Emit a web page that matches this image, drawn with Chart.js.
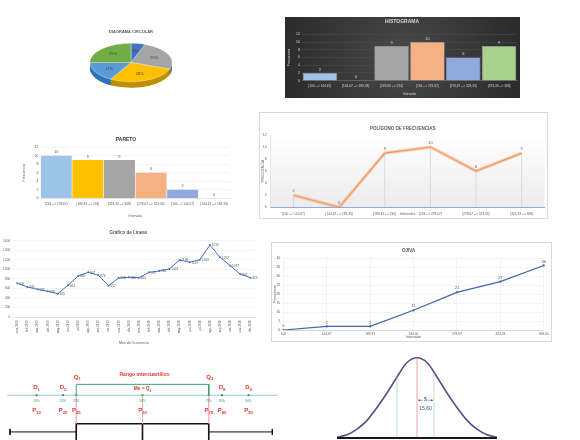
<!DOCTYPE html>
<html lang="es">
<head>
<meta charset="utf-8">
<title>Gráficos estadísticos</title>
<script src="https://cdn.jsdelivr.net/npm/chart.js@4.4.1/dist/chart.umd.min.js"></script>
<style>
  html, body { margin: 0; padding: 0; background: #fff; }
  body { position: relative; width: 580px; height: 440px; overflow: hidden; }
  .panel { position: absolute; box-sizing: border-box; }
  .marco { border: 1px solid #d9d9d9; }
</style>
</head>
<body>
<div class="panel" style="left:59px;top:22px;width:144px;height:84px"><canvas id="circular"></canvas></div>
<div class="panel" style="left:285px;top:17px;width:235px;height:81px"><canvas id="histograma"></canvas></div>
<div class="panel" style="left:20px;top:130px;width:215px;height:90px"><canvas id="pareto"></canvas></div>
<div class="panel marco" style="left:259px;top:112px;width:289px;height:107px"><canvas id="poligono"></canvas></div>
<div class="panel" style="left:0;top:225px;width:262px;height:122px"><canvas id="lineas"></canvas></div>
<div class="panel marco" style="left:271px;top:242px;width:281px;height:100px"><canvas id="ojiva"></canvas></div>
<div class="panel" style="left:0;top:355px;width:290px;height:85px"><canvas id="cuantiles"></canvas></div>
<div class="panel" style="left:330px;top:350px;width:175px;height:90px"><canvas id="normal"></canvas></div>

<script>
// ---- datos ----
const intervalos = ['[100 --> 144,67)', '[144,67 --> 189,33)', '[189,33 --> 234)', '[234 --> 278,67)', '[278,67 --> 323,33)', '[323,33 --> 368]'];
const frecuencias = [2, 0, 9, 10, 6, 9];

const paretoIntervalos = ['[234 --> 278,67)', '[189,33 --> 234)', '[323,33 --> 368]', '[278,67 --> 323,33)', '[100 --> 144,67)', '[144,67 --> 189,33)'];
const paretoFrecuencias = [10, 9, 9, 6, 2, 0];

const limites = ['100', '144,67', '189,33', '234,00', '278,67', '323,33', '368,00'];
const acumuladas = [0, 2, 2, 11, 21, 27, 36];

const meses = ['ene-2019', 'feb-2019', 'mar-2019', 'abr-2019', 'may-2019', 'jun-2019', 'jul-2019', 'ago-2019', 'sep-2019', 'oct-2019', 'nov-2019', 'dic-2019',
               'ene-2020', 'feb-2020', 'mar-2020', 'abr-2020', 'may-2020', 'jun-2020', 'jul-2020', 'ago-2020', 'sep-2020', 'oct-2020', 'nov-2020', 'dic-2020'];
const casos = [706, 630, 580, 538, 490, 664, 860, 937, 874, 657, 818, 832, 825, 937, 965, 1007, 1196, 1147, 1203, 1510, 1252, 1077, 895, 825];

const cuantilPos = [10, 20, 25, 50, 75, 80, 90];
const cuantilLetra = ['D', 'D', 'Q', 'Me = Q', 'Q', 'D', 'D'];
const cuantilSub = ['1', '2', '1', '2', '3', '8', '9'];
const porcentajes = ['10%', '20%', '25%', '50%', '75%', '80%', '90%'];
const percentilSub = ['10', '20', '25', '50', '75', '80', '90'];
const bigotes = [0, 99];

const normalX = [-80, -70, -60, -50, -40, -30, -20, -10, 0, 10, 20, 30, 40, 50, 60, 70, 80];
const normalY = [0.01, 0.04, 0.11, 0.22, 0.38, 0.56, 0.76, 0.94, 1, 0.94, 0.76, 0.56, 0.38, 0.22, 0.11, 0.04, 0.01];
const lineasS = [-20, 17];
const alturasS = [0.76, 0.81];
const desviacion = '15.60';

// ---- estilos ----
const FUENTE = '"Liberation Sans", Arial, sans-serif';
const coloresCirculo = ['#4472c4', '#ed7d31', '#a5a5a5', '#ffc000', '#5b9bd5', '#70ad47'];
const ladosCirculo = ['#2f5597', '#c55a11', '#7b7b7b', '#bf9000', '#2e75b6', '#548235'];
const coloresHist = ['#9dc3e6', '#f4b183', '#a5a5a5', '#f4b183', '#8faadc', '#a9d18e'];
const coloresPareto = ['#9dc3e6', '#ffc000', '#a5a5a5', '#f4b183', '#8faadc', '#a9d18e'];
const ROJO = '#e2382f';
const VERDE = '#1f9a5a';

Chart.defaults.font.family = FUENTE;
Chart.defaults.font.size = 4;
Chart.defaults.color = '#595959';
Chart.defaults.animation = false;
Chart.defaults.responsive = true;
Chart.defaults.maintainAspectRatio = false;
Chart.defaults.plugins.legend.display = false;
Chart.defaults.plugins.tooltip.enabled = false;

// ---- plugins ----
const etiquetas = {
    id: 'etiquetas',
    afterDatasetsDraw(chart, args, o) {
        const idx = o.dataset || 0;
        const meta = chart.getDatasetMeta(idx);
        const valores = chart.data.datasets[idx].data;
        const ctx = chart.ctx;
        ctx.save();
        ctx.font = `${o.size || 4}px ${FUENTE}`;
        ctx.fillStyle = o.color || '#595959';
        ctx.textAlign = o.align || 'center';
        ctx.textBaseline = o.baseline || 'bottom';
        meta.data.forEach((el, i) => {
            ctx.fillText(String(valores[i]), el.x + (o.dx || 0), el.y + (o.dy === undefined ? -1.5 : o.dy));
        });
        ctx.restore();
    }
};

const fondo = {
    id: 'fondo',
    beforeDraw(chart, args, o) {
        const { ctx, width, height } = chart;
        const g = ctx.createRadialGradient(width / 2, height / 2, 5, width / 2, height / 2, width * 0.6);
        g.addColorStop(0, o.centro);
        g.addColorStop(1, o.borde);
        ctx.save();
        ctx.fillStyle = g;
        ctx.fillRect(0, 0, width, height);
        ctx.restore();
    }
};

const fondoArea = {
    id: 'fondoArea',
    beforeDraw(chart, args, o) {
        const { ctx, chartArea: a } = chart;
        const g = ctx.createLinearGradient(0, a.top, 0, a.bottom);
        g.addColorStop(0, o.arriba);
        g.addColorStop(1, o.abajo);
        ctx.save();
        ctx.fillStyle = g;
        ctx.fillRect(a.left, a.top, a.right - a.left, a.bottom - a.top);
        ctx.restore();
    }
};

const caida = {
    id: 'caida',
    beforeDatasetsDraw(chart, args, o) {
        const meta = chart.getDatasetMeta(o.dataset || 0);
        const base = chart.scales.y.getPixelForValue(0);
        const ctx = chart.ctx;
        ctx.save();
        ctx.strokeStyle = o.color;
        ctx.lineWidth = 0.5;
        meta.data.forEach(p => {
            ctx.beginPath();
            ctx.moveTo(p.x, p.y);
            ctx.lineTo(p.x, base);
            ctx.stroke();
        });
        ctx.restore();
    }
};

// pastel con aspecto 3D: aplasta la cara y dibuja el costado debajo
const pastel3d = {
    id: 'pastel3d',
    beforeDatasetsDraw(chart, args, o) {
        const ctx = chart.ctx;
        const arcos = chart.getDatasetMeta(0).data;
        const a0 = arcos[0];
        for (let d = o.grosor; d > 0; d -= 0.5) {
            ctx.save();
            ctx.translate(a0.x, o.cy + d);
            ctx.scale(1, o.razon);
            arcos.forEach((arc, i) => {
                if (arc.endAngle - arc.startAngle <= 0) return;
                ctx.beginPath();
                ctx.moveTo(0, 0);
                ctx.arc(0, 0, arc.outerRadius, arc.startAngle, arc.endAngle);
                ctx.closePath();
                ctx.fillStyle = o.lados[i];
                ctx.fill();
            });
            ctx.restore();
        }
        ctx.save();
        ctx.translate(a0.x, o.cy);
        ctx.scale(1, o.razon);
        ctx.translate(-a0.x, -a0.y);
    },
    afterDatasetsDraw(chart, args, o) {
        const ctx = chart.ctx;
        ctx.restore();
        const arcos = chart.getDatasetMeta(0).data;
        const valores = chart.data.datasets[0].data;
        const total = valores.reduce((s, v) => s + v, 0);
        ctx.save();
        ctx.font = `4px ${FUENTE}`;
        ctx.fillStyle = '#404040';
        ctx.textAlign = 'center';
        ctx.textBaseline = 'middle';
        arcos.forEach((arc, i) => {
            if (valores[i] === 0) return;
            const ang = (arc.startAngle + arc.endAngle) / 2;
            const r = arc.outerRadius * 0.62;
            ctx.fillText(Math.round(valores[i] / total * 100) + '%', arc.x + Math.cos(ang) * r, o.cy + Math.sin(ang) * r * o.razon);
        });
        ctx.restore();
    }
};

function conSubindice(ctx, base, sub, cx, cy, size, color) {
    ctx.font = `bold ${size}px ${FUENTE}`;
    const wb = ctx.measureText(base).width;
    ctx.font = `bold ${size * 0.7}px ${FUENTE}`;
    const ws = ctx.measureText(sub).width;
    const x0 = cx - (wb + ws) / 2;
    ctx.textAlign = 'left';
    ctx.textBaseline = 'middle';
    ctx.fillStyle = color;
    ctx.font = `bold ${size}px ${FUENTE}`;
    ctx.fillText(base, x0, cy);
    ctx.font = `bold ${size * 0.7}px ${FUENTE}`;
    ctx.fillText(sub, x0 + wb, cy + size * 0.35);
}

// filas del diagrama de cuantiles (en px desde arriba)
const FILA_RANGO = 17.3, FILA_Q = 20, FILA_LLAVE = 28, FILA_D = 31.7, FILA_ME = 33.3,
      FILA_EJE = 40, FILA_PORC = 46.7, FILA_P = 56.7, FILA_CAJA = 71.5, FILA_BIGOTE = 80.5, FILA_FONDO = 96;

const textoCuantiles = {
    id: 'textoCuantiles',
    afterDatasetsDraw(chart) {
        const { ctx, scales: { x, y } } = chart;
        ctx.save();
        ctx.textAlign = 'center';
        ctx.textBaseline = 'middle';
        ctx.fillStyle = ROJO;
        ctx.font = `bold 5px ${FUENTE}`;
        ctx.fillText('Rango intercuartílico', x.getPixelForValue((cuantilPos[2] + cuantilPos[4]) / 2) + 2, y.getPixelForValue(FILA_RANGO));
        cuantilPos.forEach((v, i) => {
            const px = x.getPixelForValue(v);
            const letra = cuantilLetra[i];
            if (letra === 'Q') {
                conSubindice(ctx, letra, cuantilSub[i], px + 1, y.getPixelForValue(FILA_Q), 6, ROJO);
            } else if (letra === 'D') {
                conSubindice(ctx, letra, cuantilSub[i], px, y.getPixelForValue(FILA_D), 6, ROJO);
            } else {
                conSubindice(ctx, letra, cuantilSub[i], px, y.getPixelForValue(FILA_ME), 4.8, ROJO);
            }
            ctx.textAlign = 'center';
            ctx.fillStyle = VERDE;
            ctx.font = `3px ${FUENTE}`;
            ctx.fillText(porcentajes[i], px, y.getPixelForValue(FILA_PORC));
            conSubindice(ctx, 'P', percentilSub[i], px, y.getPixelForValue(FILA_P), 6, ROJO);
        });
        ctx.restore();
    }
};

const textoNormal = {
    id: 'textoNormal',
    afterDatasetsDraw(chart) {
        const { ctx, scales: { x, y } } = chart;
        const x0 = x.getPixelForValue(0);
        const x1 = x.getPixelForValue(lineasS[1]);
        const yf = y.getPixelForValue(0.47);
        const xm = (x0 + x1) / 2;
        ctx.save();
        ctx.strokeStyle = '#2f5597';
        ctx.fillStyle = '#2f5597';
        ctx.lineWidth = 0.5;
        ctx.beginPath();
        ctx.moveTo(x0 + 1, yf); ctx.lineTo(xm - 2.5, yf);
        ctx.moveTo(xm + 2.5, yf); ctx.lineTo(x1 - 1, yf);
        ctx.stroke();
        [[x0 + 1, 1], [x1 - 1, -1]].forEach(([px, s]) => {
            ctx.beginPath();
            ctx.moveTo(px, yf);
            ctx.lineTo(px + 2 * s, yf - 1);
            ctx.lineTo(px + 2 * s, yf + 1);
            ctx.closePath();
            ctx.fill();
        });
        ctx.textAlign = 'center';
        ctx.textBaseline = 'middle';
        ctx.font = `bold 4.5px ${FUENTE}`;
        ctx.fillText('S', xm, yf);
        ctx.font = `5px ${FUENTE}`;
        ctx.fillText(desviacion, xm, y.getPixelForValue(0.37));
        ctx.restore();
    }
};

const sinMiles = v => String(v);

// ---- diagrama circular ----
new Chart(document.getElementById('circular'), {
    type: 'pie',
    data: {
        labels: intervalos,
        datasets: [{ data: frecuencias, backgroundColor: coloresCirculo, borderColor: '#ffffff', borderWidth: 0.5, radius: 41, clip: false }]
    },
    options: {
        layout: { padding: 0 },
        plugins: {
            title: { display: true, text: 'DIAGRAMA CIRCULAR', color: '#595959', font: { size: 4 }, padding: { top: 7.6, bottom: 4 } },
            pastel3d: { cy: 40.5, razon: 0.47, grosor: 6, lados: ladosCirculo }
        }
    },
    plugins: [pastel3d]
});

// ---- histograma ----
new Chart(document.getElementById('histograma'), {
    type: 'bar',
    data: {
        labels: intervalos,
        datasets: [{ data: frecuencias, backgroundColor: coloresHist, borderColor: 'rgba(255,255,255,0.55)', borderWidth: 0.6, barPercentage: 0.96, categoryPercentage: 1 }]
    },
    options: {
        layout: { padding: { left: 2, right: 3, top: 0, bottom: 2 } },
        plugins: {
            title: { display: true, text: 'HISTOGRAMA', color: '#d9d9d9', font: { size: 5 }, padding: { top: 2, bottom: 9.3 } },
            fondo: { centro: '#474747', borde: '#262626' },
            etiquetas: { color: '#d9d9d9', size: 4 }
        },
        scales: {
            x: {
                grid: { display: false, drawTicks: false },
                border: { color: '#7f7f7f', width: 0.5 },
                ticks: { color: '#d9d9d9', font: { size: 3.2 }, padding: 3.4, maxRotation: 0, autoSkip: false },
                title: { display: true, text: 'Intervalo', color: '#d9d9d9', font: { size: 3.5 }, padding: 0 },
                afterFit: s => { s.height = 15.3; }
            },
            y: {
                min: 0, max: 12,
                ticks: { stepSize: 2, color: '#d9d9d9', font: { size: 3.5 }, padding: 2 },
                grid: { color: '#4f4f4f', lineWidth: 0.5, drawTicks: false },
                border: { display: false },
                title: { display: true, text: 'Frecuencia', color: '#d9d9d9', font: { size: 3.5 }, padding: 0 },
                afterFit: s => { s.width = 15; }
            }
        }
    },
    plugins: [fondo, etiquetas]
});

// ---- pareto ----
new Chart(document.getElementById('pareto'), {
    type: 'bar',
    data: {
        labels: paretoIntervalos,
        datasets: [{ data: paretoFrecuencias, backgroundColor: coloresPareto, barPercentage: 0.98, categoryPercentage: 1 }]
    },
    options: {
        layout: { padding: { left: 2, right: 5, top: 0, bottom: 2 } },
        plugins: {
            title: { display: true, text: 'PARETO', color: '#404040', font: { size: 5, weight: 'bold' }, padding: { top: 6.3, bottom: 5 } },
            etiquetas: { color: '#595959', size: 4 }
        },
        scales: {
            x: {
                grid: { display: false, drawTicks: false },
                border: { color: '#d9d9d9', width: 0.5 },
                ticks: { font: { size: 3.2 }, padding: 4, maxRotation: 0, autoSkip: false },
                title: { display: true, text: 'Intervalo', font: { size: 3.5 }, padding: 0 },
                afterFit: s => { s.height = 19.7; }
            },
            y: {
                min: 0, max: 12,
                ticks: { stepSize: 2, font: { size: 3.5 }, padding: 2 },
                grid: { color: '#e6e6e6', lineWidth: 0.5, drawTicks: false },
                border: { display: false },
                title: { display: true, text: 'Frecuencia', font: { size: 3.5 }, padding: 0 },
                afterFit: s => { s.width = 18.5; }
            }
        }
    },
    plugins: [etiquetas]
});

// ---- polígono de frecuencias ----
new Chart(document.getElementById('poligono'), {
    type: 'line',
    data: {
        labels: intervalos,
        datasets: [
            { data: frecuencias, borderColor: 'rgba(244,177,131,0.55)', borderWidth: 3.5, pointRadius: 0 },
            { data: frecuencias, borderColor: '#ed7d31', borderWidth: 1.2, pointRadius: 0 }
        ]
    },
    options: {
        layout: { padding: { left: 1, right: 2.5, top: 0, bottom: 2 } },
        plugins: {
            title: { display: true, text: 'POLÍGONO DE FRECUENCIAS', color: '#595959', font: { size: 4.5 }, padding: { top: 13.3, bottom: 3.3 } },
            fondoArea: { arriba: '#ffffff', abajo: '#ececec' },
            caida: { dataset: 1, color: '#bfbfbf' },
            etiquetas: { dataset: 1, color: '#595959', size: 4, dy: -2 }
        },
        scales: {
            x: {
                offset: true,
                grid: { display: false, drawTicks: false },
                border: { color: '#8faadc', width: 1 },
                ticks: { font: { size: 3.2 }, padding: 4.4, maxRotation: 0, autoSkip: false },
                title: { display: true, text: 'Intervalos', font: { size: 3.5 }, padding: 0 },
                afterFit: s => { s.height = 8.7; }
            },
            y: {
                min: 0, max: 12,
                ticks: { stepSize: 2, font: { size: 3.5 }, padding: 4 },
                grid: { display: false, drawTicks: false },
                border: { color: '#c9d5ec', width: 0.6 },
                title: { display: true, text: 'FRECUENCIA', font: { size: 3.5 }, padding: 0 },
                afterFit: s => { s.width = 9.7; }
            }
        }
    },
    plugins: [fondoArea, caida, etiquetas]
});

// ---- gráfico de líneas ----
new Chart(document.getElementById('lineas'), {
    type: 'line',
    data: {
        labels: meses,
        datasets: [{ data: casos, borderColor: '#4472c4', borderWidth: 1, pointRadius: 1, pointBackgroundColor: '#4472c4', pointBorderWidth: 0 }]
    },
    options: {
        layout: { padding: { left: 1, right: 6.4, top: 0, bottom: 2 } },
        plugins: {
            title: { display: true, text: 'Gráfico de Líneas', color: '#595959', font: { size: 4.5 }, padding: { top: 4.6, bottom: 5.7 } },
            etiquetas: { color: '#595959', size: 3.2, align: 'left', baseline: 'middle', dx: 1.8, dy: 0.5 }
        },
        scales: {
            x: {
                offset: true,
                grid: { display: false, drawTicks: false },
                border: { color: '#d9d9d9', width: 0.5 },
                ticks: { font: { size: 3 }, padding: 3, minRotation: 90, maxRotation: 90, autoSkip: false },
                title: { display: true, text: 'Mes de Ocurrencia', font: { size: 3.5 }, padding: 0 },
                afterFit: s => { s.height = 28; }
            },
            y: {
                min: 0, max: 1600,
                ticks: { stepSize: 200, font: { size: 3.2 }, padding: 2, callback: sinMiles },
                grid: { color: '#e6e6e6', lineWidth: 0.5, drawTicks: false },
                border: { display: false },
                afterFit: s => { s.width = 11.2; }
            }
        }
    },
    plugins: [etiquetas]
});

// ---- ojiva ----
new Chart(document.getElementById('ojiva'), {
    type: 'line',
    data: {
        labels: limites,
        datasets: [{ data: acumuladas, borderColor: '#3f64b0', borderWidth: 1.2, pointRadius: 1.1, pointBackgroundColor: '#3f64b0', pointBorderWidth: 0 }]
    },
    options: {
        layout: { padding: { left: 1, right: 6.7, top: 0, bottom: 2 } },
        plugins: {
            title: { display: true, text: 'OJIVA', color: '#595959', font: { size: 4.5 }, padding: { top: 5, bottom: 4.9 } },
            etiquetas: { color: '#595959', size: 4, dy: -2 }
        },
        scales: {
            x: {
                offset: false,
                grid: { color: '#e6e6e6', lineWidth: 0.5, drawTicks: false },
                border: { color: '#bfbfbf', width: 0.6 },
                ticks: { font: { size: 3.2 }, padding: 2.4, maxRotation: 0, autoSkip: false },
                title: { display: true, text: 'Intervalos', font: { size: 3.5 }, padding: 0 },
                afterFit: s => { s.height = 9; }
            },
            y: {
                min: 0, max: 40,
                ticks: { stepSize: 5, font: { size: 3.5 }, padding: 3 },
                grid: { color: '#e6e6e6', lineWidth: 0.5, drawTicks: false },
                border: { display: false },
                title: { display: true, text: 'Frecuencia', font: { size: 3.5 }, padding: 0 },
                afterFit: s => { s.width = 10.3; }
            }
        }
    },
    plugins: [etiquetas]
});

// ---- diagrama de cuantiles y caja ----
const Q1 = cuantilPos[2], ME = cuantilPos[3], Q3 = cuantilPos[4];
const segmento = (puntos, color, ancho) => ({ data: puntos, showLine: true, borderColor: color, borderWidth: ancho, pointRadius: 0, clip: false });
new Chart(document.getElementById('cuantiles'), {
    type: 'scatter',
    data: {
        datasets: [
            segmento([{ x: -1, y: FILA_EJE }, { x: 101, y: FILA_EJE }], '#66b5b5', 0.7),
            ...[Q1, ME, Q3].map(v => segmento([{ x: v, y: FILA_EJE }, { x: v, y: FILA_CAJA }], '#f4a9a9', 0.6)),
            segmento([{ x: Q1, y: FILA_EJE }, { x: Q1, y: FILA_LLAVE }, { x: Q3, y: FILA_LLAVE }, { x: Q3, y: FILA_EJE }], '#2e9a66', 0.9),
            segmento([{ x: Q1, y: FILA_FONDO }, { x: Q1, y: FILA_CAJA }, { x: Q3, y: FILA_CAJA }, { x: Q3, y: FILA_FONDO }], '#111111', 1.6),
            segmento([{ x: ME, y: FILA_CAJA }, { x: ME, y: FILA_FONDO }], '#111111', 1.6),
            segmento([{ x: bigotes[0], y: FILA_BIGOTE }, { x: Q1, y: FILA_BIGOTE }], '#111111', 1),
            segmento([{ x: Q3, y: FILA_BIGOTE }, { x: bigotes[1], y: FILA_BIGOTE }], '#111111', 1),
            segmento([{ x: bigotes[0], y: FILA_BIGOTE - 3.3 }, { x: bigotes[0], y: FILA_BIGOTE + 3.3 }], '#111111', 1),
            segmento([{ x: bigotes[1], y: FILA_BIGOTE - 3.3 }, { x: bigotes[1], y: FILA_BIGOTE + 3.3 }], '#111111', 1),
            { data: cuantilPos.map(v => ({ x: v, y: FILA_EJE })), pointRadius: 1.1, pointBackgroundColor: '#333333', pointBorderWidth: 0, clip: false }
        ]
    },
    options: {
        layout: { padding: { left: 10, right: 15, top: 0, bottom: 0 } },
        scales: {
            x: { type: 'linear', display: false, min: 0, max: 100 },
            y: { type: 'linear', display: false, min: 0, max: 85, reverse: true }
        }
    },
    plugins: [textoCuantiles]
});

// ---- curva normal ----
new Chart(document.getElementById('normal'), {
    type: 'scatter',
    data: {
        datasets: [
            segmento([{ x: normalX[0], y: 0 }, { x: normalX[normalX.length - 1], y: 0 }], '#1a1a1a', 2),
            segmento([{ x: 0, y: 0 }, { x: 0, y: 1 }], '#f08a8a', 0.8),
            ...lineasS.map((v, i) => segmento([{ x: v, y: 0 }, { x: v, y: alturasS[i] }], '#8fd0a0', 0.6)),
            {
                data: normalX.map((v, i) => ({ x: v, y: normalY[i] })), showLine: true, borderColor: '#5a4d8c', borderWidth: 1.6,
                pointRadius: 0, cubicInterpolationMode: 'monotone', clip: false
            }
        ]
    },
    options: {
        layout: { padding: { left: 7, right: 8, top: 7.7, bottom: 2 } },
        scales: {
            x: { type: 'linear', display: false, min: -80, max: 80 },
            y: { type: 'linear', display: false, min: 0, max: 1 }
        }
    },
    plugins: [textoNormal]
});
</script>
</body>
</html>
